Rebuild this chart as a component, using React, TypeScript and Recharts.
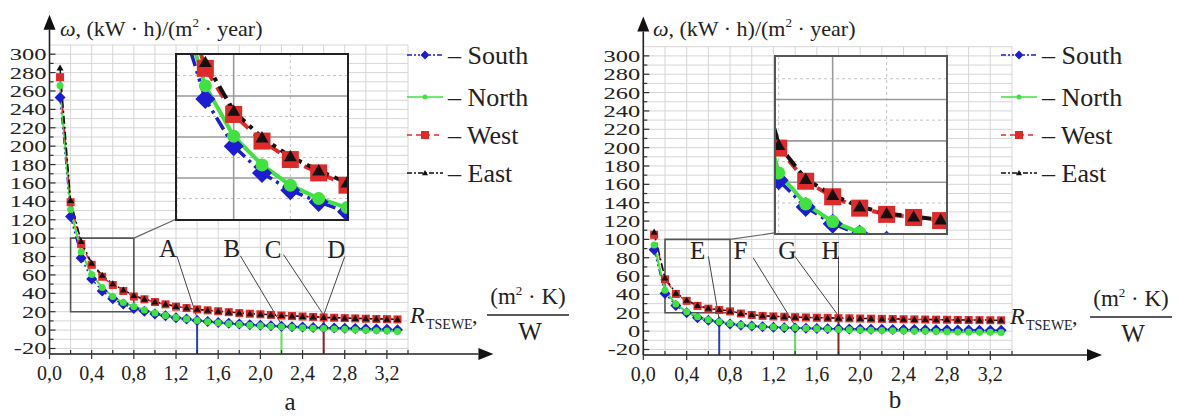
import React from 'react';
import { LineChart, Line, XAxis, YAxis, CartesianGrid, ReferenceLine, ReferenceDot, ReferenceArea } from 'recharts';

// ---------- data ----------
const R = [0.1, 0.2, 0.3, 0.4, 0.5, 0.6, 0.7, 0.8, 0.9, 1.0, 1.1, 1.2, 1.3, 1.4, 1.5, 1.6, 1.7, 1.8, 1.9, 2.0, 2.1, 2.2, 2.3, 2.4, 2.5, 2.6, 2.7, 2.8, 2.9, 3.0, 3.1, 3.2, 3.3];

const SOUTH_A = [253, 123.5, 78.5, 55.5, 42.5, 34, 28.3, 23.5, 20.5, 17.5, 15.5, 13.5, 12, 10.5, 9.3, 8.3, 7.4, 6.6, 5.9, 5.3, 4.7, 4.2, 3.7, 3.3, 2.9, 2.6, 2.3, 2, 1.7, 1.4, 1.1, 0.8, 0.5];
const NORTH_A = [266, 131, 85, 60.4, 46.4, 36.5, 30, 25.6, 21.8, 18.5, 16, 13.8, 12, 10.5, 9.2, 8, 7, 6.1, 5.3, 4.7, 4.1, 3.6, 3.1, 2.6, 2.1, 1.7, 1.2, 0.8, 0.3, -0.2, -0.6, -1.1, -1.5];
const WEST_A = [275, 139, 93.5, 71, 58, 49, 42.5, 36.5, 33.5, 30.5, 28, 25.5, 24, 22.5, 21.5, 20.5, 19.5, 18.5, 17.8, 17.2, 16.5, 15.8, 15.3, 14.8, 14.3, 13.8, 13.4, 13, 12.7, 12.4, 12.1, 11.9, 11.6];
const EAST_A = [285, 141, 96.5, 72.7, 59.7, 50.5, 43.6, 37.7, 33.8, 30.8, 28.2, 25.8, 24.2, 22.7, 21.6, 20.6, 19.6, 18.7, 17.9, 17.3, 16.6, 15.9, 15.4, 14.9, 14.4, 13.9, 13.5, 13.1, 12.8, 12.5, 12.2, 11.9, 11.7];

const SOUTH_B = [88.8, 41, 28, 20, 14.7, 11.8, 9.9, 7.8, 6.4, 5.5, 4.8, 4.2, 3.8, 3.4, 3.1, 2.9, 2.7, 2.5, 2.4, 2.2, 2.1, 2, 1.9, 1.8, 1.7, 1.6, 1.5, 1.4, 1.3, 1.2, 1.1, 1.0, 0.9];
const NORTH_B = [94, 44.5, 29.5, 21, 15.8, 12.5, 10.3, 8.2, 6.7, 5.6, 4.9, 4.4, 4, 3.6, 3.1, 2.6, 2.2, 1.8, 1.5, 1.2, 0.9, 0.7, 0.4, 0.2, 0, -0.2, -0.4, -0.6, -0.8, -1.0, -1.1, -1.3, -1.5];
const WEST_B = [105, 56.5, 40.5, 33, 27.5, 24.5, 23, 21.5, 19.2, 17.6, 16.6, 16, 15.6, 15.2, 14.9, 14.6, 14.4, 14.2, 14, 13.8, 13.6, 13.4, 13.2, 13, 12.8, 12.7, 12.5, 12.4, 12.2, 12.1, 12, 11.9, 11.8];
const EAST_B = [108, 58, 41.5, 33.8, 28.2, 25, 23.4, 21.9, 19.5, 17.9, 16.8, 16.2, 15.7, 15.3, 15, 14.7, 14.5, 14.3, 14.1, 13.9, 13.7, 13.5, 13.3, 13.1, 12.9, 12.8, 12.6, 12.5, 12.3, 12.2, 12.1, 12, 11.9];

const SERIES_KEYS = ['south', 'north', 'west', 'east'];
const SERIES_NAMES = ['South', 'North', 'West', 'East'];

const X_TICKS = [0, 0.2, 0.4, 0.6, 0.8, 1.0, 1.2, 1.4, 1.6, 1.8, 2.0, 2.2, 2.4, 2.6, 2.8, 3.0, 3.2, 3.4];
const X_TICK_LABELS = ['0,0', '0,4', '0,8', '1,2', '1,6', '2,0', '2,4', '2,8', '3,2'];
const Y_TICKS = [-20, -10, 0, 10, 20, 30, 40, 50, 60, 70, 80, 90, 100, 110, 120, 130, 140, 150, 160, 170, 180, 190, 200, 210, 220, 230, 240, 250, 260, 270, 280, 290, 300];
const Y_TICK_LABELS = ['-20', '0', '20', '40', '60', '80', '100', '120', '140', '160', '180', '200', '220', '240', '260', '280', '300'];

const INSET_X_TICKS_MAJOR = [0.4];
const INSET_X_TICKS_MINOR = [0.2, 0.6];
const INSET_Y_TICKS_MAJOR = [40, 60, 80];
const INSET_Y_TICKS_MINOR = [30, 50, 70, 90];

// ---------- styles / layout ----------
const FONT = 'Liberation Serif, DejaVu Serif, serif';
const Y_DOMAIN: [number, number] = [-26, 310];
const X_DOMAIN: [number, number] = [0, 3.4];

const STYLE: Record<string, any> = {
  south: { color: '#1c1cd2', dash: '7 3 2 3 2 3', dashIn: '14 5 3 5 3 5', marker: 'diamond', size: 11, sizeIn: 20, w: 1.5, wIn: 3.5, legDash: '5 2 2 2 2 2', legSize: 9 },
  north: { color: '#3fe23f', dash: undefined, dashIn: undefined, marker: 'circle', size: 7, sizeIn: 13, w: 2, wIn: 4, legDash: undefined, legSize: 5 },
  west: { color: '#e02a2a', dash: '6 4', dashIn: '12 8', marker: 'square', size: 8, sizeIn: 17, w: 1.5, wIn: 4, legDash: '5 4', legSize: 8 },
  east: { color: '#111111', dash: '8 3 2 3', dashIn: '14 6 4 6', marker: 'triangle', size: 7, sizeIn: 13, w: 1.5, wIn: 4, legDash: '5 2 2 2', legSize: 6 },
};

const buildRows = (s: number[], n: number[], w: number[], e: number[]) =>
  R.map((x, i) => ({ x, south: s[i], north: n[i], west: w[i], east: e[i] }));

const DATA_A = buildRows(SOUTH_A, NORTH_A, WEST_A, EAST_A);
const DATA_B = buildRows(SOUTH_B, NORTH_B, WEST_B, EAST_B);

const valueAt = (data: any[], key: string, x: number) => {
  const row = data.find((r) => Math.abs(r.x - x) < 1e-9);
  return row ? row[key] : 0;
};

const PANELS = [
  {
    id: 'a',
    data: DATA_A,
    left: 0, width: 590,
    margin: { top: 45, left: 48.5, right: 182, bottom: 62 },
    xArrow: 4.21, yArrow: 343,
    drops: [
      { key: 'south', x: 1.4, color: '#2a3fbf' },
      { key: 'north', x: 2.2, color: '#5ddf5d' },
      { key: 'west', x: 2.6, color: '#8b2222' },
    ],
    notes: [
      { label: 'A', at: [1.125, 89], from: [1.21, 80], key: 'south', x: 1.4 },
      { label: 'B', at: [1.73, 89], from: [1.81, 80.8], key: 'north', x: 2.2 },
      { label: 'C', at: [2.12, 88], from: [2.22, 82], key: 'west', x: 2.6 },
      { label: 'D', at: [2.72, 88], from: [2.8, 80], key: 'west', x: 2.6 },
    ],
    connector: [1.21, 121],
    inset: { left: 175, top: 53, w: 170, h: 164, border: '2px solid #222', xd: [0.2, 0.8], yd: [20, 100] },
    legendX: 407,
    titleX: 60,
    axisLabel: { rx: 410, ry: 323, fx: 528, fy: 315, fw: 82 },
    letter: { x: 290, y: 410, t: 'a' },
  },
  {
    id: 'b',
    data: DATA_B,
    left: 590, width: 590,
    margin: { top: 46.7, left: 52.3, right: 168, bottom: 61 },
    xArrow: 4.23, yArrow: 343,
    drops: [
      { key: 'south', x: 0.7, color: '#2a3fbf' },
      { key: 'north', x: 1.4, color: '#5ddf5d' },
      { key: 'west', x: 1.8, color: '#8b2222' },
    ],
    notes: [
      { label: 'E', at: [0.5, 88.8], from: [0.6, 81.5], key: 'south', x: 0.7 },
      { label: 'F', at: [0.896, 88.8], from: [1.014, 79.8], key: 'north', x: 1.4 },
      { label: 'G', at: [1.327, 88], from: [1.398, 81.5], key: 'west', x: 1.8 },
      { label: 'H', at: [1.727, 88.8], from: [1.8, 81.5], key: 'west', x: 1.8 },
    ],
    connector: [1.21, 107],
    inset: { left: 774, top: 55, w: 170, h: 176, border: '2px solid #555', xd: [0.19, 0.82], yd: [15.5, 100.5] },
    legendX: 1001,
    titleX: 653,
    axisLabel: { rx: 1010, ry: 324, fx: 1131, fy: 317, fw: 82 },
    letter: { x: 895, y: 408, t: 'b' },
  },
];

// ---------- shapes ----------
function Marker({ kind, cx, cy, size, color }: any) {
  const h = size / 2;
  if (kind === 'diamond') return <path d={`M${cx},${cy - h}L${cx + h},${cy}L${cx},${cy + h}L${cx - h},${cy}Z`} fill={color} />;
  if (kind === 'square') return <rect x={cx - h} y={cy - h} width={size} height={size} fill={color} />;
  if (kind === 'triangle') return <path d={`M${cx},${cy - h}L${cx + h},${cy + h * 0.75}L${cx - h},${cy + h * 0.75}Z`} fill={color} />;
  return <circle cx={cx} cy={cy} r={h} fill={color} />;
}

const makeDot = (kind: string, size: number, color: string, prefix: string) => (p: any) => {
  const { cx, cy, index } = p;
  if (cx == null || cy == null || Number.isNaN(cx) || Number.isNaN(cy)) return <g key={`${prefix}-${index}`} />;
  return <Marker key={`${prefix}-${index}`} kind={kind} cx={cx} cy={cy} size={size} color={color} />;
};

const ArrowShape = (p: any) => {
  const { x1, y1, x2, y2 } = p;
  const ang = Math.atan2(y2 - y1, x2 - x1);
  const L = 15, W = 6;
  const bx = x2 - L * Math.cos(ang), by = y2 - L * Math.sin(ang);
  const px = -Math.sin(ang) * W, py = Math.cos(ang) * W;
  return (
    <g>
      <line x1={x1} y1={y1} x2={bx} y2={by} stroke="#222" strokeWidth={1.6} />
      <path d={`M${x2},${y2}L${bx + px},${by + py}L${bx - px},${by - py}Z`} fill="#111" />
    </g>
  );
};

const XTick = (p: any) => {
  const { x, y, payload } = p;
  const v = payload.value;
  const k = Math.round(v * 5);
  const major = k % 2 === 0;
  const label = major ? X_TICK_LABELS[k / 2] : undefined;
  return (
    <g>
      <line x1={x} x2={x} y1={y - 4} y2={major ? y + 5 : y} stroke="#333" strokeWidth={1.2} />
      {label && (
        <text x={x} y={y + 26} textAnchor="middle" fontFamily={FONT} fontSize={20} fill="#222">{label}</text>
      )}
    </g>
  );
};

const YTick = (p: any) => {
  const { x, y, payload } = p;
  const v = payload.value;
  const major = v % 20 === 0;
  const label = major ? Y_TICK_LABELS[(v + 20) / 20] : undefined;
  return (
    <g>
      <line x1={x} x2={x + (major ? 6 : 4)} y1={y} y2={y} stroke="#333" strokeWidth={1.2} />
      {label && (
        <text transform={`translate(${x - 3},${y + 6}) scale(1.4,1)`} textAnchor="end" fontFamily={FONT} fontSize={17.5} fill="#222">{label}</text>
      )}
    </g>
  );
};

// ---------- panels ----------
function MainChart({ cfg }: any) {
  const { data } = cfg;
  const h = 417;
  return (
    <div style={{ position: 'absolute', left: cfg.left, top: 0, width: cfg.width, height: h }}>
      <LineChart width={cfg.width} height={h} data={data} margin={cfg.margin}>
        <CartesianGrid stroke="#d6d6d6" strokeWidth={1} />
        <XAxis type="number" dataKey="x" domain={X_DOMAIN} ticks={X_TICKS} interval={0} height={1}
          axisLine={false} tickLine={false} tickSize={0} tickMargin={0} tick={(p: any) => <XTick {...p} />} />
        <YAxis type="number" domain={Y_DOMAIN} ticks={Y_TICKS} interval={0} width={1}
          axisLine={false} tickLine={false} tickSize={0} tickMargin={0} tick={(p: any) => <YTick {...p} />} />
        <ReferenceArea x1={0.2} x2={0.8} y1={20} y2={100} fill="none" stroke="#555" strokeWidth={1.6} ifOverflow="visible" />
        <ReferenceLine segment={[{ x: 0.8, y: 100 }, { x: cfg.connector[0], y: cfg.connector[1] }]} stroke="#666" strokeWidth={1.2} ifOverflow="visible" />
        {cfg.drops.map((d: any) => (
          <ReferenceLine key={`drop-${d.key}-${d.x}`} segment={[{ x: d.x, y: Y_DOMAIN[0] }, { x: d.x, y: valueAt(data, d.key, d.x) }]}
            stroke={d.color} strokeWidth={2} ifOverflow="visible" />
        ))}
        {cfg.notes.map((n: any) => (
          <ReferenceLine key={`note-${n.label}`} segment={[{ x: n.from[0], y: n.from[1] }, { x: n.x, y: valueAt(data, n.key, n.x) + 2.5 }]}
            stroke="#444" strokeWidth={1} ifOverflow="visible" />
        ))}
        {cfg.notes.map((n: any) => (
          <ReferenceDot key={`lab-${n.label}`} x={n.at[0]} y={n.at[1]} r={0} ifOverflow="visible"
            shape={(p: any) => (
              <text x={p.cx} y={p.cy + 9} textAnchor="middle" fontFamily={FONT} fontSize={25} fill="#222">{n.label}</text>
            )} />
        ))}
        {SERIES_KEYS.map((k) => {
          const s = STYLE[k];
          return (
            <Line key={k} dataKey={k} type="linear" stroke={s.color} strokeWidth={s.w} strokeDasharray={s.dash}
              dot={makeDot(s.marker, s.size, s.color, `${cfg.id}-${k}`)} activeDot={false} isAnimationActive={false} />
          );
        })}
        <ReferenceLine segment={[{ x: 0, y: Y_DOMAIN[0] }, { x: 0, y: cfg.yArrow }]} ifOverflow="visible" shape={ArrowShape} />
        <ReferenceLine segment={[{ x: 0, y: Y_DOMAIN[0] }, { x: cfg.xArrow, y: Y_DOMAIN[0] }]} ifOverflow="visible" shape={ArrowShape} />
      </LineChart>
    </div>
  );
}

function InsetChart({ cfg }: any) {
  const ins = cfg.inset;
  return (
    <div style={{ position: 'absolute', left: ins.left, top: ins.top, width: ins.w, height: ins.h, border: ins.border, background: '#fff' }}>
      <LineChart width={ins.w} height={ins.h} data={cfg.data} margin={{ top: 0, right: 0, bottom: 0, left: 0 }}>
        <XAxis type="number" dataKey="x" domain={ins.xd} allowDataOverflow hide height={0} />
        <YAxis type="number" domain={ins.yd} allowDataOverflow hide width={0} />
        {INSET_X_TICKS_MINOR.map((v) => (
          <ReferenceLine key={`ixm-${v}`} x={v} stroke="#c4c4c4" strokeWidth={1} strokeDasharray="3 3" />
        ))}
        {INSET_Y_TICKS_MINOR.map((v) => (
          <ReferenceLine key={`iym-${v}`} y={v} stroke="#c4c4c4" strokeWidth={1} strokeDasharray="3 3" />
        ))}
        {INSET_X_TICKS_MAJOR.map((v) => (
          <ReferenceLine key={`ixM-${v}`} x={v} stroke="#9a9a9a" strokeWidth={1.6} />
        ))}
        {INSET_Y_TICKS_MAJOR.map((v) => (
          <ReferenceLine key={`iyM-${v}`} y={v} stroke="#9a9a9a" strokeWidth={1.6} />
        ))}
        {SERIES_KEYS.map((k) => {
          const s = STYLE[k];
          return (
            <Line key={k} dataKey={k} type="linear" stroke={s.color} strokeWidth={s.wIn} strokeDasharray={s.dashIn}
              dot={makeDot(s.marker, s.sizeIn, s.color, `in-${cfg.id}-${k}`)} activeDot={false} isAnimationActive={false} />
          );
        })}
      </LineChart>
    </div>
  );
}

function Decorations() {
  const rows = [55, 97, 135, 173];
  return (
    <svg width={1180} height={417} style={{ position: 'absolute', left: 0, top: 0, pointerEvents: 'none' }}>
      {PANELS.map((cfg) => (
        <g key={`dec-${cfg.id}`} fontFamily={FONT} fill="#222">
          <text x={cfg.titleX} y={36} fontSize={22}>
            <tspan fontStyle="italic">ω</tspan>, (kW · h)/(m<tspan dy={-9} fontSize={13}>2</tspan><tspan dy={9}> · year)</tspan>
          </text>
          {SERIES_KEYS.map((k, i) => {
            const s = STYLE[k];
            const y = rows[i];
            const x0 = cfg.legendX;
            return (
              <g key={`leg-${k}`}>
                <line x1={x0} x2={x0 + 36} y1={y} y2={y} stroke={s.color} strokeWidth={1.5} strokeDasharray={s.legDash} />
                <Marker kind={s.marker} cx={x0 + 18} cy={y} size={s.legSize} color={s.color} />
                <text x={x0 + 41} y={y + 9} fontSize={26}>– {SERIES_NAMES[i]}</text>
              </g>
            );
          })}
          <text x={cfg.axisLabel.rx} y={cfg.axisLabel.ry} fontSize={24} fontStyle="italic">R</text>
          <text x={cfg.axisLabel.rx + 16} y={cfg.axisLabel.ry + 6} fontSize={14}>TSEWE</text>
          <text x={cfg.axisLabel.rx + 62} y={cfg.axisLabel.ry} fontSize={22}>,</text>
          <text x={cfg.axisLabel.fx} y={cfg.axisLabel.fy - 11} fontSize={23} textAnchor="middle">
            (m<tspan dy={-9} fontSize={13}>2</tspan><tspan dy={9}> · K)</tspan>
          </text>
          <line x1={cfg.axisLabel.fx - cfg.axisLabel.fw / 2} x2={cfg.axisLabel.fx + cfg.axisLabel.fw / 2} y1={cfg.axisLabel.fy} y2={cfg.axisLabel.fy} stroke="#222" strokeWidth={1.5} />
          <text x={cfg.axisLabel.fx + 2} y={cfg.axisLabel.fy + 25} fontSize={25} textAnchor="middle">W</text>
          <text x={cfg.letter.x} y={cfg.letter.y} fontSize={25} textAnchor="middle">{cfg.letter.t}</text>
        </g>
      ))}
    </svg>
  );
}

export default function App() {
  return (
    <div style={{ position: 'absolute', left: 0, top: 0, width: 1180, height: 417, background: '#fff', overflow: 'hidden' }}>
      {PANELS.map((cfg) => (
        <React.Fragment key={cfg.id}>
          <MainChart cfg={cfg} />
          <InsetChart cfg={cfg} />
        </React.Fragment>
      ))}
      <Decorations />
    </div>
  );
}
